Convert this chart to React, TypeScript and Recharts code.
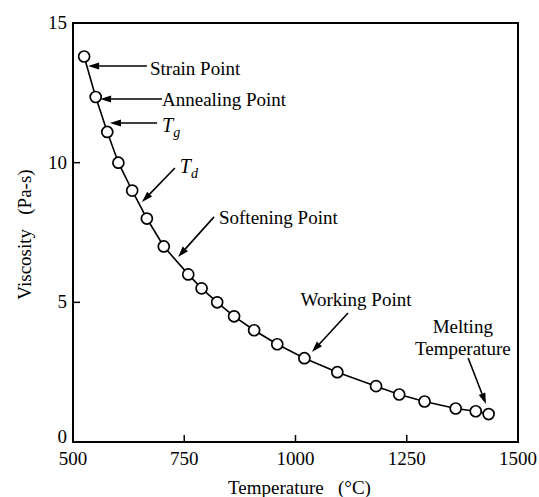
import { LineChart, Line, XAxis, YAxis, ReferenceArea, ReferenceLine, ReferenceDot } from "recharts";

// temperature (°C) of each measured point
const temperatures = [525, 551, 577, 602, 633, 666, 704, 759, 789, 824, 862, 907, 959, 1020, 1094, 1181, 1233, 1290, 1360, 1405, 1434];
// viscosity (log Pa-s) at each temperature
const viscosities = [13.8, 12.35, 11.1, 10, 9, 8, 7, 6, 5.5, 5, 4.5, 4, 3.5, 3, 2.5, 2, 1.7, 1.45, 1.2, 1.1, 1];

const xTicks = [500, 750, 1000, 1250, 1500];
const yTicks = [0, 5, 10, 15];

// arrows: [tailT, tailV, headT, headV]
const arrows = [
	[666, 13.46, 534, 13.46],
	[700, 12.28, 561, 12.28],
	[689, 11.42, 583, 11.42],
	[729, 9.81, 655, 8.59],
	[817, 8.06, 736, 6.62],
	[1118, 4.62, 1037, 3.22],
	[1388, 3.01, 1428, 1.36],
];

// annotation labels at baseline position (data coords)
const labels = [
	{ text: "Strain Point", t: 673, v: 13.14, anchor: "start" },
	{ text: "Annealing Point", t: 700, v: 12.03, anchor: "start" },
	{ text: "Softening Point", t: 828, v: 7.8, anchor: "start" },
	{ text: "Working Point", t: 1136, v: 4.87, anchor: "middle" },
	{ text: "Melting", t: 1376, v: 3.9, anchor: "middle" },
	{ text: "Temperature", t: 1376, v: 3.11, anchor: "middle" },
];

// italic symbols with subscript
const symbols = [
	{ main: "T", sub: "g", t: 700, v: 11.1 },
	{ main: "T", sub: "d", t: 740, v: 9.63 },
];

const data = temperatures.map((t, i) => ({ t, v: viscosities[i] }));

const FONT = "'Liberation Serif', 'Times New Roman', serif";
const FS = 19;

function arrowShape(props: any) {
	const { x1, y1, x2, y2 } = props;
	const dx = x2 - x1;
	const dy = y2 - y1;
	const len = Math.sqrt(dx * dx + dy * dy) || 1;
	const ux = dx / len;
	const uy = dy / len;
	const hl = 11;
	const hw = 3.5;
	const bx = x2 - ux * hl;
	const by = y2 - uy * hl;
	const pts = `${x2},${y2} ${bx - uy * hw},${by + ux * hw} ${bx + uy * hw},${by - ux * hw}`;
	return (
		<g>
			<line x1={x1} y1={y1} x2={bx} y2={by} stroke="#000" strokeWidth={1.6} />
			<polygon points={pts} fill="#000" />
		</g>
	);
}

// inward tick mark drawn from the axis point
function tickShape(props: any) {
	const { x1, y1, x2, y2 } = props;
	const vertical = Math.abs(x2 - x1) < Math.abs(y2 - y1);
	return vertical ? (
		<line x1={x1} y1={y1} x2={x1} y2={y1 - 7} stroke="#000" strokeWidth={1.5} />
	) : (
		<line x1={x1} y1={y1} x2={x1 + 7} y2={y1} stroke="#000" strokeWidth={1.5} />
	);
}

function XTick({ x, y, payload }: any) {
	return (
		<text x={x} y={y + 23} textAnchor="middle" fontFamily={FONT} fontSize={FS} fill="#000">
			{payload.value}
		</text>
	);
}

function YTick({ x, y, payload }: any) {
	return (
		<text x={x - 6} y={payload.value === 0 ? y + 1 : y + 6} textAnchor="end" fontFamily={FONT} fontSize={FS} fill="#000">
			{payload.value}
		</text>
	);
}

export default function App() {
	return (
		<div style={{ position: "absolute", left: 0, top: 0, background: "#fff" }}>
			<LineChart width={539} height={497} data={data} margin={{ top: 23, right: 21, bottom: 15, left: 23 }}>
				<XAxis
					dataKey="t"
					type="number"
					domain={[500, 1500]}
					ticks={xTicks}
					tickLine={false}
					tickSize={0}
					tickMargin={0}
					height={40}
					axisLine={{ stroke: "#000", strokeWidth: 2 }}
					tick={XTick}
					label={{
						content: ({ viewBox }: any) => (
							<text
								x={viewBox.x + viewBox.width / 2 + 4}
								y={494}
								textAnchor="middle"
								fontFamily={FONT}
								fontSize={FS}
								fill="#000"
							>
								{"Temperature\u00a0\u00a0\u00a0(°C)"}
							</text>
						),
					}}
				/>
				<YAxis
					type="number"
					domain={[0, 15]}
					ticks={yTicks}
					tickLine={false}
					tickSize={0}
					tickMargin={0}
					width={50}
					axisLine={{ stroke: "#000", strokeWidth: 2 }}
					tick={YTick}
					label={{
						content: ({ viewBox }: any) => {
							const cx = 31;
							const cy = viewBox.y + viewBox.height / 2 + 2;
							return (
								<text
									x={cx}
									y={cy}
									transform={`rotate(-90, ${cx}, ${cy})`}
									textAnchor="middle"
									fontFamily={FONT}
									fontSize={FS}
									fill="#000"
								>
									{"Viscosity\u00a0\u00a0\u00a0(Pa-s)"}
								</text>
							);
						},
					}}
				/>
				<ReferenceArea x1={500} x2={1500} y1={0} y2={15} fill="none" stroke="#000" strokeWidth={2} ifOverflow="visible" />
				{xTicks.slice(1, -1).map((t) => (
					<ReferenceLine
						key={`xt-${t}`}
						segment={[
							{ x: t, y: 0 },
							{ x: t, y: 1 },
						]}
						shape={tickShape}
					/>
				))}
				{yTicks.slice(1, -1).map((v) => (
					<ReferenceLine
						key={`yt-${v}`}
						segment={[
							{ x: 500, y: v },
							{ x: 560, y: v },
						]}
						shape={tickShape}
					/>
				))}
				{arrows.map((a, i) => (
					<ReferenceLine
						key={`arrow-${i}`}
						segment={[
							{ x: a[0], y: a[1] },
							{ x: a[2], y: a[3] },
						]}
						shape={arrowShape}
						ifOverflow="visible"
					/>
				))}
				<Line
					dataKey="v"
					type="linear"
					stroke="#000"
					strokeWidth={1.6}
					dot={{ r: 5.5, fill: "#fff", stroke: "#000", strokeWidth: 1.7 }}
					isAnimationActive={false}
				/>
				{labels.map((l, i) => (
					<ReferenceDot
						key={`label-${i}`}
						x={l.t}
						y={l.v}
						r={0}
						ifOverflow="visible"
						shape={({ cx, cy }: any) => (
							<text x={cx} y={cy} textAnchor={l.anchor} fontFamily={FONT} fontSize={FS} fill="#000">
								{l.text}
							</text>
						)}
					/>
				))}
				{symbols.map((s, i) => (
					<ReferenceDot
						key={`sym-${i}`}
						x={s.t}
						y={s.v}
						r={0}
						ifOverflow="visible"
						shape={({ cx, cy }: any) => (
							<text x={cx} y={cy} fontFamily={FONT} fontSize={20} fontStyle="italic" fill="#000">
								{s.main}
								<tspan fontSize={14} dy={5}>
									{s.sub}
								</tspan>
							</text>
						)}
					/>
				))}
			</LineChart>
		</div>
	);
}
